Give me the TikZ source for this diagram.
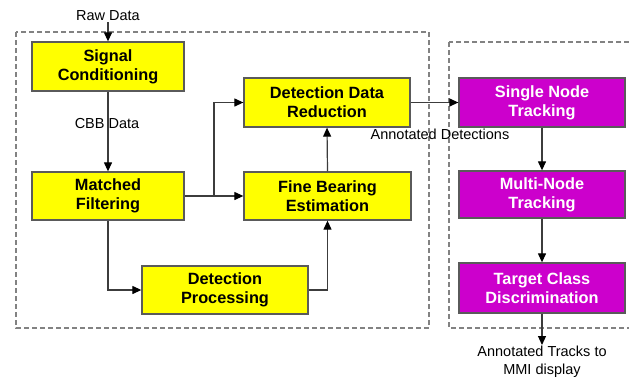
\documentclass[tikz,border=0pt]{standalone}
\usepackage{fontspec}
\setmainfont{Liberation Sans}
\usetikzlibrary{arrows.meta}
\definecolor{boxyellow}{RGB}{255,255,0}
\definecolor{boxmagenta}{RGB}{204,0,204}
\definecolor{edgegray}{RGB}{90,90,90}
\definecolor{linegray}{RGB}{60,60,60}
\definecolor{dashgray}{RGB}{130,130,130}
\tikzset{
  yellowbox/.style={draw=edgegray, line width=1.3pt, fill=boxyellow, align=center,
    font=\fontsize{16.3}{19}\selectfont\bfseries, text=black, inner sep=0pt},
  magbox/.style={draw=edgegray, line width=1.3pt, fill=boxmagenta, align=center,
    font=\fontsize{16.3}{19}\selectfont\bfseries, text=white, inner sep=0pt,
    minimum width=166pt},
  lbl/.style={font=\fontsize{14.5}{17.5}\selectfont, text=black, align=center, inner sep=1pt},
  arr/.style={draw=linegray, line width=1.2pt, -{Triangle[length=9pt,width=8pt,color=black]}},
  group/.style={draw=dashgray, line width=1.3pt, dash pattern=on 5pt off 3pt},
}
\begin{document}
\begin{tikzpicture}[x=1pt,y=-1pt]
\useasboundingbox[fill=white] (0,0) rectangle (629,378);
\clip (0,0) rectangle (629,378);
% dashed groups
\draw[group] (16,32) rectangle (429,328);
\draw[group] (449,42) rectangle (645,328);
% yellow boxes
\node[yellowbox, minimum width=152pt, minimum height=49pt] (sc) at (108,66.5) {Signal\\Conditioning};
\node[yellowbox, minimum width=152pt, minimum height=48pt] (mf) at (108,196) {Matched\\Filtering};
\node[yellowbox, minimum width=166pt, minimum height=49pt] (ddr) at (327,102.5) {Detection Data\\Reduction};
\node[yellowbox, minimum width=167pt, minimum height=48pt] (fbe) at (327.5,196) {Fine Bearing\\Estimation};
\node[yellowbox, minimum width=166pt, minimum height=48pt] (dp) at (225,290) {Detection\\Processing};
% magenta boxes
\node[magbox, minimum height=49pt] (snt) at (542,102.5) {Single Node\\Tracking};
\node[magbox, minimum height=47pt] (mnt) at (542,194.5) {Multi-Node\\Tracking};
\node[magbox, minimum height=50pt] (tcd) at (542,288) {Target Class\\Discrimination};
% labels
\node[lbl] (raw) at (108,16) {Raw Data};
\node[lbl] (cbb) at (107,124) {CBB Data};
\node[lbl] (ad) at (440,134) {Annotated Detections};
\node[lbl, anchor=north] (at) at (542,345) {Annotated Tracks to\\MMI display};
% connectors
\draw[arr] (raw.south) -- (sc.north);
\draw[arr] (sc.south) -- (mf.north);
\draw[arr] (mf.east) -- (fbe.west);
\coordinate (br) at (214,196);
\draw[arr] (br) |- (ddr.west);
\draw[arr] (mf.south) |- (dp.west);
\draw[arr] (dp.east) -| (fbe.south);
\draw[arr] (fbe.north) -- (ddr.south);
\draw[arr] (ddr.east) -- (snt.west);
\draw[arr] (snt.south) -- (mnt.north);
\draw[arr] (mnt.south) -- (tcd.north);
\draw[arr] (tcd.south) -- (at.north);
\end{tikzpicture}
\end{document}
